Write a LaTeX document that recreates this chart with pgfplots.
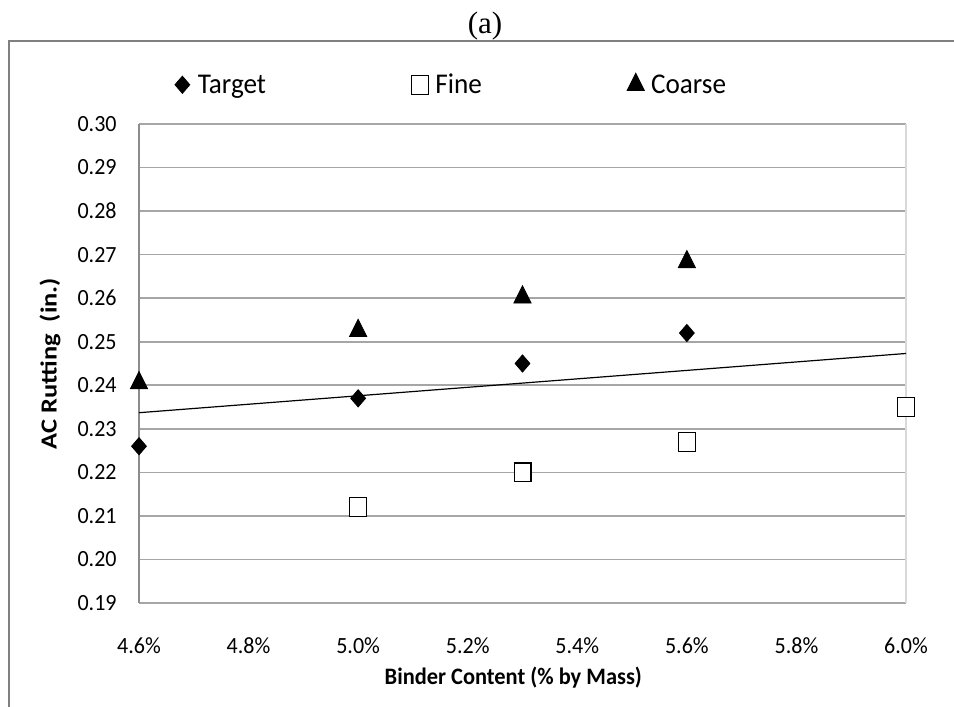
\documentclass[border=0pt]{standalone}
\usepackage{pgfplots}
\pgfplotsset{compat=1.18}
\usepackage{fontspec}
\setmainfont{Carlito}[FakeStretch=0.95]
\newfontfamily\ylabfont{Carlito}[FakeStretch=1.15]
\newfontfamily\timesfont{Liberation Serif}
\definecolor{gridc}{HTML}{A6A6A6}
\definecolor{axc}{HTML}{8C8C8C}
\definecolor{bordc}{HTML}{D9D9D9}
\definecolor{framec}{HTML}{808080}
\begin{document}
\begin{tikzpicture}
\useasboundingbox (0,0) rectangle (477pt,353.5pt);
\draw[framec, line width=1pt] (4.5pt,0pt) -- (4.5pt,333.2pt) -- (477pt,333.2pt);
\node[font=\timesfont\fontsize{15.5}{18}\selectfont] at (242.5pt,340.5pt) {(a)};
\begin{axis}[
  at={(69.5pt,52pt)}, anchor=south west,
  scale only axis, width=383.5pt, height=239.5pt,
  xmin=4.6, xmax=6.0, ymin=0.19, ymax=0.30,
  xtick={4.6,4.8,5.0,5.2,5.4,5.6,5.8,6.0},
  ytick={0.19,0.20,0.21,0.22,0.23,0.24,0.25,0.26,0.27,0.28,0.29,0.30},
  axis x line*=bottom, axis y line*=left,
  x axis line style={draw=gridc, line width=0.8pt},
  y axis line style={draw=axc, line width=0.8pt},
  major tick length=0pt,
  ymajorgrids, major grid style={draw=gridc, line width=0.8pt},
  extra x ticks={6.0}, extra x tick labels={},
  extra x tick style={xmajorgrids=true, major grid style={draw=bordc, line width=0.8pt}},
  xticklabel={\pgfmathprintnumber[fixed,fixed zerofill,precision=1]{\tick}\%},
  yticklabel={\pgfmathprintnumber[fixed,fixed zerofill,precision=2]{\tick}},
  /pgf/number format/assume math mode=true,
  tick label style={font=\fontsize{11.6}{13}\selectfont, inner sep=0pt},
  x tick label style={anchor=north, yshift=-17pt},
  y tick label style={anchor=east, xshift=-11pt},
  xlabel={Binder Content (\% by Mass)},
  ylabel={AC Rutting\ \ (in.)},
  xlabel style={at={(axis description cs:0.488,-0.1566)}, anchor=center, font=\bfseries\fontsize{11.8}{13}\selectfont},
  ylabel style={at={(axis description cs:-0.116,0.5)}, anchor=center, font=\ylabfont\bfseries\fontsize{11.5}{13}\selectfont},
  legend columns=3,
  legend cell align=left,
  legend style={draw=none, fill=none, inner sep=0pt, outer sep=0pt,
    at={(axis description cs:0.043,1.079)}, anchor=west,
    font=\fontsize{14.3}{16}\selectfont,
    nodes={text height=10pt, text depth=3pt},
    /tikz/every even column/.append style={column sep=69.75pt}},
  legend image code/.code={\path (-5pt,0pt) (5.5pt,0pt); \draw[#1] plot[only marks] coordinates {(0pt,0.7pt)};},
  clip=false,
]
\addplot[black, line width=0.6pt, forget plot] coordinates {(4.6,0.2337) (6.0,0.2473)};
\addplot[only marks, mark=diamond*, mark size=4.3pt, black, mark options={xscale=1.15}] coordinates {
  (4.6,0.226) (5.0,0.237) (5.3,0.245) (5.6,0.252)};
\addlegendentry{Target}
\addplot[only marks, mark=square*, mark size=4.2pt,
  mark options={fill=white, draw=black, line width=0.6pt, yscale=1.12}] coordinates {
  (5.0,0.212) (5.3,0.220) (5.6,0.227) (6.0,0.235)};
\addlegendentry{Fine}
\addplot[only marks, mark=triangle*, mark size=5pt, black, mark options={yscale=1.15}] coordinates {
  (4.6,0.2405) (5.0,0.2525) (5.3,0.2602) (5.6,0.2683)};
\addlegendentry{Coarse}
\end{axis}
\end{tikzpicture}
\end{document}
